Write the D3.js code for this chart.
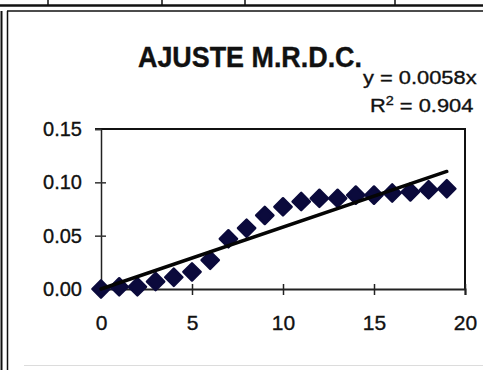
<!DOCTYPE html>
<html>
<head>
<meta charset="utf-8">
<script src="https://cdn.jsdelivr.net/npm/d3@7"></script>
<style>
  html, body { margin: 0; padding: 0; background: #ffffff; }
  svg { display: block; font-family: "Liberation Sans", Arial, sans-serif; }
</style>
</head>
<body>
<svg id="chart" width="483" height="370"></svg>
<script>
// Measured series: time step vs. value
const xValues = [0, 1, 2, 3, 4, 5, 6, 7, 8, 9, 10, 11, 12, 13, 14, 15, 16, 17, 18, 19];
const yValues = [0.000, 0.002, 0.002, 0.007, 0.011, 0.016, 0.027, 0.047, 0.057, 0.069,
                 0.077, 0.082, 0.085, 0.085, 0.088, 0.088, 0.090, 0.091, 0.093, 0.094];
const xTicks = [0, 5, 10, 15, 20];
const yTicks = [0, 0.05, 0.10, 0.15];
// Linear trendline through the origin
const slope = 0.0058;
const rSquared = 0.904;
const titleText = "AJUSTE M.R.D.C.";

const svg = d3.select("#chart");
const W = 483, H = 370;

const x = d3.scaleLinear().domain([0, 20]).range([101, 465]);
const y = d3.scaleLinear().domain([0, 0.15]).range([289, 129]);

// Outer frame / table rules
const frame = svg.append("g").attr("stroke", "#111").attr("fill", "none");
frame.append("line").attr("x1", 0).attr("x2", W).attr("y1", 5.5).attr("y2", 5.5).attr("stroke-width", 2.5);
frame.append("line").attr("x1", 7).attr("x2", W).attr("y1", 11).attr("y2", 11).attr("stroke-width", 1.5);
[48, 162, 245, 395].forEach(px => {
  frame.append("line").attr("x1", px).attr("x2", px).attr("y1", 0).attr("y2", 5).attr("stroke-width", 1.5);
});
frame.append("line").attr("x1", 1.5).attr("x2", 1.5).attr("y1", 11).attr("y2", H).attr("stroke-width", 2);
frame.append("line").attr("x1", 7.5).attr("x2", 7.5).attr("y1", 11).attr("y2", H).attr("stroke-width", 1.5);
svg.append("line").attr("x1", 24).attr("x2", W).attr("y1", 365.5).attr("y2", 365.5)
  .attr("stroke", "#dcdcdc").attr("stroke-width", 1);

// Plot area border (top and right)
svg.append("path")
  .attr("d", `M${x(0) - 6},${y(0.15)}H${x(20)}V${y(0)}`)
  .attr("fill", "none").attr("stroke", "#111").attr("stroke-width", 2);

// Y axis with crossing ticks
const yAxis = svg.append("g")
  .attr("transform", `translate(${x(0)},0)`)
  .call(d3.axisLeft(y).tickValues(yTicks).tickFormat(d3.format(".2f")).tickSize(6).tickPadding(13));
yAxis.select(".domain").attr("stroke", "#222").attr("stroke-width", 1.5);
yAxis.selectAll(".tick line").attr("x1", d => (d > 0 && d < 0.15) ? 5 : 0).attr("stroke", "#333").attr("stroke-width", 1.5);
yAxis.selectAll(".tick text").attr("font-size", 20).attr("fill", "#111")
  .attr("stroke", "#111").attr("stroke-width", 0.35)
  .attr("font-family", "Liberation Sans, Arial, sans-serif");

// X axis with crossing ticks
const xAxis = svg.append("g")
  .attr("transform", `translate(0,${y(0)})`)
  .call(d3.axisBottom(x).tickValues(xTicks).tickFormat(d3.format("d")).tickSize(6).tickPadding(20));
xAxis.select(".domain").attr("stroke", "#222").attr("stroke-width", 2);
xAxis.selectAll(".tick line").attr("y1", -5).attr("stroke", "#222").attr("stroke-width", 1.5);
xAxis.selectAll(".tick text").attr("font-size", 21).attr("fill", "#111")
  .attr("stroke", "#111").attr("stroke-width", 0.35)
  .attr("font-family", "Liberation Sans, Arial, sans-serif");

// Data markers: diamonds
const diamond = d3.symbol().type(d3.symbolSquare).size(150);
svg.append("g").selectAll("path")
  .data(xValues.map((d, i) => [d, yValues[i]]))
  .join("path")
  .attr("d", diamond)
  .attr("transform", d => `translate(${x(d[0])},${y(d[1])}) rotate(45)`)
  .attr("fill", "#0b0a3c")
  .attr("stroke", "#0b0a3c")
  .attr("stroke-width", 2.4)
  .attr("stroke-linejoin", "round");

// Trendline
const xMax = d3.max(xValues);
svg.append("line")
  .attr("x1", x(0)).attr("y1", y(0))
  .attr("x2", x(xMax)).attr("y2", y(slope * xMax))
  .attr("stroke", "#050505").attr("stroke-width", 3.5).attr("stroke-linecap", "round");

// Title
svg.append("text")
  .attr("x", 138).attr("y", 66.5)
  .attr("font-size", 29).attr("font-weight", "bold").attr("fill", "#111")
  .attr("stroke", "#111").attr("stroke-width", 0.4)
  .attr("textLength", 224).attr("lengthAdjust", "spacingAndGlyphs")
  .text(titleText);

// Trendline equation and R²
svg.append("text")
  .attr("transform", "translate(363,84) scale(1.15,1)")
  .attr("font-size", 19).attr("fill", "#111")
  .attr("stroke", "#111").attr("stroke-width", 0.35)
  .text(`y = ${slope}x`);

const r2 = svg.append("text")
  .attr("transform", "translate(370,112) scale(1.15,1)")
  .attr("font-size", 19).attr("fill", "#111")
  .attr("stroke", "#111").attr("stroke-width", 0.35);
r2.append("tspan").text("R");
r2.append("tspan").attr("font-size", 12.5).attr("dy", -7).text("2");
r2.append("tspan").attr("dy", 7).text(` = ${rSquared}`);
</script>
</body>
</html>
